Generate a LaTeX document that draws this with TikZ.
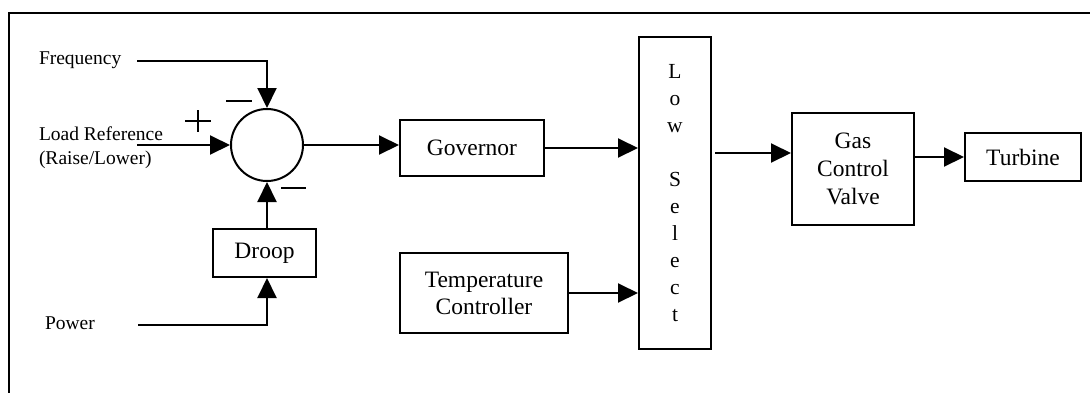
\documentclass[tikz,border=0pt]{standalone}
\usepackage{fontspec}
\setmainfont{Liberation Serif}
\usetikzlibrary{arrows.meta}
\begin{document}
\begin{tikzpicture}[x=1pt,y=-1pt, line width=2pt,
  blk/.style={draw, rectangle, inner sep=0pt, font=\fontsize{23.5}{27}\selectfont, align=center},
  lbl/.style={font=\fontsize{19.5}{24}\selectfont, align=left, inner sep=0pt, anchor=west},
  arr/.style={-{Triangle[length=20pt,width=19pt]}},
  sgn/.style={line width=1.7pt}]
\useasboundingbox (0,0) rectangle (1090,392);
\draw[line width=2.2pt] (9,400) -- (9,13) -- (1100,13);
% blocks
\node[draw, circle, minimum size=72pt, inner sep=0pt] (sum) at (267,145) {};
\node[blk, minimum width=144pt, minimum height=56pt] (gov) at (472,148) {Governor};
\node[blk, minimum width=103pt, minimum height=48pt] (droop) at (264.5,253) {Droop};
\node[blk, minimum width=168pt, minimum height=80pt] (temp) at (484,293) {Temperature\\Controller};
\node[blk, minimum width=72pt, minimum height=312pt, font=\fontsize{21.5}{27}\selectfont] (low) at (675,193) {L\\o\\w\\[27pt]S\\e\\l\\e\\c\\t};
\node[blk, minimum width=122pt, minimum height=112pt, font=\fontsize{23.5}{28}\selectfont] (gas) at (853,169) {Gas\\Control\\Valve};
\node[blk, minimum width=116pt, minimum height=48pt] (turb) at (1023,157) {Turbine};
% labels
\node[lbl] (freq) at (38,60) {Frequency};
\node[lbl] (load) at (38,148) {Load Reference\\(Raise/Lower)};
\node[lbl] (pow) at (44,323) {Power};
% connector start points
\coordinate (fstart) at (137,61);
\coordinate (lstart) at (137,145);
\coordinate (pstart) at (138,325);
\coordinate (lowout) at (715,153);
% connectors
\draw[arr] (fstart) -| (sum.north);
\draw[arr] (lstart) -- (sum.west);
\draw[arr] (pstart) -| (sum.south |- droop.south);
\draw[arr] (sum.south |- droop.north) -- (sum.south);
\draw[arr] (sum.east) -- (gov.west |- sum.east);
\draw[arr] (gov.east) -- (low.west |- gov.east);
\draw[arr] (temp.east) -- (low.west |- temp.east);
\draw[arr] (lowout) -- (gas.west |- lowout);
\draw[arr] (gas.east |- turb.west) -- (turb.west);
% signs
\draw[sgn] (226,101) -- (252,101);
\draw[sgn] (185,121) -- (211,121) (198,110) -- (198,132);
\draw[sgn] (281,188) -- (306,188);
\end{tikzpicture}
\end{document}
